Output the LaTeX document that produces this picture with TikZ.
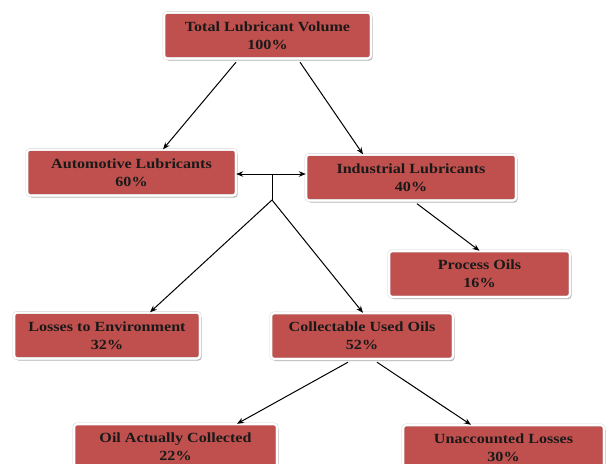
\documentclass[tikz,border=0pt]{standalone}
\usepackage{fontspec}
\setmainfont{Liberation Serif}[FakeStretch=1.15]
\usetikzlibrary{arrows.meta,shadows}
\definecolor{boxred}{RGB}{192,80,77}
\begin{document}
\begin{tikzpicture}[x=1pt,y=-1pt,
  box/.style={rectangle, rounded corners=3pt, fill=boxred, draw=black!18,
    double=white, double distance=2pt, line width=0.4pt,
    minimum height=46pt, inner sep=0pt, align=center,
    font=\fontsize{14}{18}\selectfont\bfseries, text=black!90,
    drop shadow={shadow xshift=1.5pt, shadow yshift=-2pt, fill=black, opacity=0.3}},
  conn/.style={draw=black, line width=1pt, -{Stealth[length=7pt,width=5.5pt]}},
  plain/.style={draw=black, line width=1pt}]
\useasboundingbox (0,0) rectangle (609,463);
\clip (0,0) rectangle (609,463);
\node[box, minimum width=207pt] (top) at (267.5,35.5) {Total Lubricant Volume\\100\%};
\node[box, minimum width=209pt] (auto) at (131.5,172.5) {Automotive Lubricants\\60\%};
\node[box, minimum width=210pt] (ind) at (411,177.5) {Industrial Lubricants\\40\%};
\node[box, minimum width=181pt] (proc) at (479.5,274) {Process Oils\\16\%};
\node[box, minimum width=186pt] (loss) at (107,335.5) {Losses to Environment\\32\%};
\node[box, minimum width=182pt] (coll) at (362,336) {Collectable Used Oils\\52\%};
\node[box, minimum width=203pt] (oil) at (175.5,447) {Oil Actually Collected\\22\%};
\node[box, minimum width=201pt] (unacc) at (503.5,448) {Unaccounted Losses\\30\%};
\coordinate (j) at (272,174);
\coordinate (k) at (272,200);
\draw[conn] ([xshift=-31.5pt,yshift=-3.5pt]top.south) -- ([xshift=31.5pt]auto.north);
\draw[conn] ([xshift=32.5pt,yshift=-3.5pt]top.south) -- ([xshift=-48pt]ind.north);
\draw[plain, {Stealth[length=7pt,width=5.5pt]}-{Stealth[length=7pt,width=5.5pt]}] (auto.east |- j) -- (ind.west |- j);
\draw[plain] (j) -- (k);
\draw[conn] (k) -- ([xshift=43pt]loss.north);
\draw[conn] (k) -- ([xshift=1pt]coll.north);
\draw[conn] ([xshift=6pt,yshift=-3pt]ind.south) -- (proc.north);
\draw[conn] ([xshift=-14pt,yshift=-3pt]coll.south) -- ([xshift=61.5pt]oil.north);
\draw[conn] ([xshift=15pt,yshift=-3pt]coll.south) -- ([xshift=-32.5pt]unacc.north);
\end{tikzpicture}
\end{document}
